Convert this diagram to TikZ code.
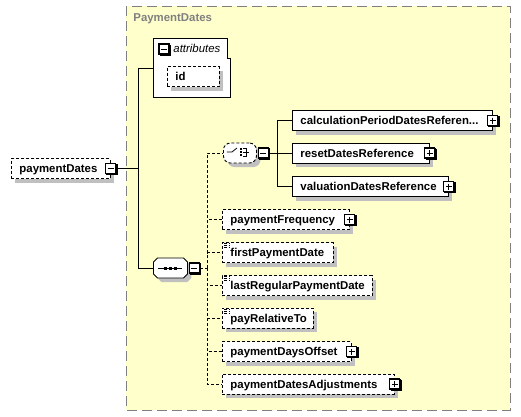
\documentclass[tikz,border=0pt]{standalone}
\usepackage{fontspec}
\setmainfont{Liberation Sans}
\usetikzlibrary{positioning}
\usetikzlibrary{shapes.misc}
\usetikzlibrary{shadows}

\hyphenpenalty=10000

\definecolor{schemabg}{RGB}{255,255,204}
\definecolor{schemagrey}{RGB}{128,128,128}
\definecolor{shadowgrey}{RGB}{192,192,192}

\tikzset{
	elem/.style={draw, fill=white, anchor=west, minimum height=20pt, inner xsep=8pt, inner ysep=0pt,
		text height=8pt, text depth=0pt, font=\bfseries\fontsize{11.4}{13}\selectfont,
		drop shadow={shadow xshift=4pt, shadow yshift=-4pt, fill=shadowgrey, opacity=1}},
	optional/.style={elem, dash pattern=on 3pt off 2pt},
	optline/.style={dash pattern=on 3pt off 2pt},
	boxw/.style={text width=#1pt-16pt},
	minusbox/.style={draw, fill=white, minimum size=10pt, inner sep=0pt, line width=1.1pt,
		double copy shadow={shadow xshift=0.6pt, shadow yshift=-0.6pt, fill=black, draw=black},
		path picture={\draw[line width=1pt] ([xshift=2pt]path picture bounding box.west) -- ([xshift=-2pt]path picture bounding box.east);}},
	plusbox/.style={draw, fill=white, minimum size=10pt, inner sep=0pt, line width=1.1pt,
		double copy shadow={shadow xshift=0.6pt, shadow yshift=-0.6pt, fill=black, draw=black},
		path picture={\draw[line width=1pt] ([xshift=2pt]path picture bounding box.west) -- ([xshift=-2pt]path picture bounding box.east);
			\draw[line width=1pt] ([yshift=-2pt]path picture bounding box.north) -- ([yshift=2pt]path picture bounding box.south);}},
	simple/.style={path picture={\foreach \k in {1,3,5} \draw[line width=0.6pt] ([xshift=2pt,yshift=-\k pt]path picture bounding box.north west) -- ++(6pt,0pt);}},
}

\begin{document}
\begin{tikzpicture}[x=1pt, y=-1pt, line width=0.9pt]
	\useasboundingbox (0,0) rectangle (521,416);

	% complex type area
	\fill[schemabg] (126,6) rectangle (510,410);
	\draw[schemagrey, dash pattern=on 10pt off 5pt] (126,6) rectangle (510,410);
	\node[anchor=west, inner sep=0pt, text=schemagrey, font=\bfseries\fontsize{11.4}{13}\selectfont] (grouptitle) at (133,19) {PaymentDates};

	% attributes
	\node[anchor=north west, minimum width=77pt, minimum height=59pt, inner sep=0pt] (attr) at (153,38) {};
	\draw[fill=white] (attr.south west) -- (attr.north west) -- ([xshift=-3pt]attr.north east) -- ++(0,20) -- ([yshift=-20pt]attr.north east) -- (attr.south east) -- cycle;
	\node[minusbox] (attrm) at (164,49) {};
	\node[anchor=west, inner sep=0pt, font=\itshape\fontsize{11.4}{13}\selectfont] (attrlbl) at (173,48.5) {attributes};
	\node[optional, boxw=52] (id) at (167,76.5) {id};

	% root element
	\node[optional, boxw=99] (root) at (11,168.5) {paymentDates};
	\node[minusbox] (rootm) at (root.east) {};

	% sequence and choice
	\node[elem, chamfered rectangle, chamfered rectangle xsep=5pt, minimum width=34pt, inner sep=0pt] (seq) at (153,268) {};
	\node[minusbox, right=1pt of seq] (seqm) {};
	\node[optional, rounded corners=7pt, minimum width=33pt, inner sep=0pt] (choice) at (223,153) {};
	\node[minusbox, right=1pt of choice] (choicem) {};

	\draw[shift={(seq.center)}] (-12,0) -- (12,0);
	\foreach \s in {-5,0,5}
		\fill[shift={(seq.center)}] (\s-1.5,-1.5) rectangle (\s+1.5,1.5);

	\draw[shift={(choice.center)}, line width=0.8pt] (-13,-1) -- (-8,-1) -- (-3,-5);
	\foreach \s in {-5,-2,1}
		\fill[shift={(choice.center)}] (0.5,\s) rectangle (2.5,\s+2);
	\draw[shift={(choice.center)}, line width=0.8pt] (3,-5) -- (6,-5) -- (6,3) -- (3,3) (3,-1) -- (9,-1);

	% choice members
	\node[elem, boxw=200] (calc) at (292,120.5) {calculationPeriodDatesReferen...};
	\node[plusbox] (calcp) at (calc.east) {};
	\node[elem, boxw=137] (reset) at (292,153) {resetDatesReference};
	\node[plusbox] (resetp) at (reset.east) {};
	\node[elem, boxw=156] (valu) at (292,186.5) {valuationDatesReference};
	\node[plusbox] (valup) at (valu.east) {};

	% sequence members
	\node[optional, boxw=127] (freq) at (222,219.5) {paymentFrequency};
	\node[plusbox] (freqp) at (freq.east) {};
	\node[optional, simple, boxw=111] (first) at (222,252.5) {firstPaymentDate};
	\node[optional, simple, boxw=150] (last) at (222,285.5) {lastRegularPaymentDate};
	\node[optional, simple, boxw=91] (rel) at (222,318) {payRelativeTo};
	\node[optional, boxw=129] (offset) at (222,351.5) {paymentDaysOffset};
	\node[plusbox] (offsetp) at (offset.east) {};
	\node[optional, boxw=172] (adj) at (222,384) {paymentDatesAdjustments};
	\node[plusbox] (adjp) at (adj.east) {};

	% connectors
	\coordinate (trunk) at (138,168.5);
	\draw (rootm.east) -- (trunk);
	\draw (trunk) |- (attr.west);
	\draw (trunk) |- (seq.west);

	\coordinate (seqbus) at (207,268);
	\draw[optline] (seqm.east) -- (seqbus);
	\foreach \n in {choice,freq,first,last,rel,offset,adj}
		\draw[optline] (seqbus) |- (\n.west);

	\coordinate (choicebus) at (277,153);
	\draw (choicem.east) -- (choicebus);
	\foreach \n in {calc,reset,valu}
		\draw (choicebus) |- (\n.west);
\end{tikzpicture}
\end{document}
